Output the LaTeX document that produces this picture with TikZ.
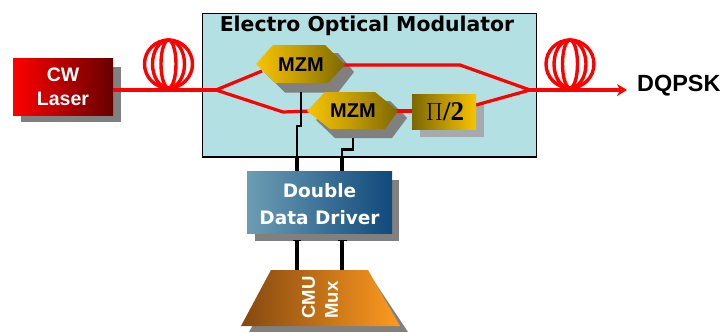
\documentclass[tikz,border=0pt]{standalone}
\usepackage{fontspec}
\setmainfont{Liberation Sans}
\newfontfamily\djfont{DejaVu Sans}
\newfontfamily\srfont{Liberation Serif}
\usetikzlibrary{arrows.meta}
\definecolor{shgray}{HTML}{808080}
\definecolor{lightsh}{HTML}{A3ABAE}
\definecolor{optbg}{HTML}{B2E0E3}
\definecolor{goldl}{HTML}{F8C400}
\definecolor{goldr}{HTML}{7C6800}
\definecolor{goldm}{HTML}{C09A00}
\definecolor{drvl}{HTML}{6C9DB4}
\definecolor{drvr}{HTML}{104A7C}
\definecolor{muxl}{HTML}{84480F}
\definecolor{muxr}{HTML}{FF9A20}
\definecolor{lasr}{HTML}{660000}
\tikzset{
  fibre/.style={red,line width=3.2pt,line join=round},
  wire/.style={black,line width=2.4pt},
  wirethick/.style={black,line width=3.8pt},
  loopring/.style={red,line width=3.4pt},
  boxnode/.style={minimum width=#1,inner sep=0pt,outer sep=0pt,align=center},
  lab/.style={font=\fontsize{20}{22}\selectfont\bfseries,text=black},
  whitelab/.style={font=\djfont\fontsize{18.5}{27}\selectfont\bfseries,text=white,align=center}
}
\begin{document}
\begin{tikzpicture}[x=1pt,y=-1pt]
\useasboundingbox (0,0) rectangle (726,332);
% laser
\fill[shgray] (21,67) rectangle (121,122);
\node[boxnode=100pt,minimum height=57pt,left color=red,right color=lasr,anchor=north west] (laser) at (13,58) {};
\node[font=\fontsize{19.5}{23.5}\selectfont\bfseries,text=white,align=center] (lasertxt) at (63,87) {CW\\Laser};
% modulator box
\node[minimum width=334pt,minimum height=144pt,inner sep=0pt,outer sep=0pt,fill=optbg,draw=black,line width=1pt,anchor=north west] (eom) at (202,13) {};
\draw[black,line width=2pt] (eom.south west) -- (eom.south east);
\node[font=\djfont\fontsize{20.4}{22}\selectfont\bfseries] (eomtitle) at (367,26) {Electro Optical Modulator};
% junctions
\coordinate (split) at (216,90);
\coordinate (join) at (530,90);
\coordinate (lowbend) at (283,112);
\coordinate (upbend) at (460,65);
\coordinate (m1left) at (262,71);
\coordinate (m1right) at (340,65);
\coordinate (m2left) at (312,111);
\coordinate (m2right) at (396,111);
\coordinate (laserout) at (113,90);
% shadows
\fill[shgray] (264,72) -- (283,53) -- (338,53) -- (354,72) -- (338,92.5) -- (285,92.5) -- cycle;
\fill[shgray] (316,120) -- (335,101) -- (390,101) -- (407,118) -- (392,138) -- (335,138) -- cycle;
\fill[lightsh] (420,103) rectangle (484,137);
% optical path under modules
\draw[fibre] (laserout) -- (split);
\draw[fibre] (split) -- (m1left);
\draw[fibre] (split) -- (lowbend) -- (m2left);
\draw[fibre] (m1right) -- (upbend) -- (join);
\draw[fibre] (m2right) -- (412,111);
\draw[fibre] (476,105) -- (join);
\draw[fibre,-{Stealth[length=10pt,width=12pt]}] (join) -- (627,90);
% mzm 1
\shade[left color=goldl,right color=goldr,middle color=goldm] (256,64) -- (273,45) -- (325,45) -- (345,65) -- (328,83) -- (275,83) -- cycle;
\node[lab] (mzmone) at (301,64.5) {MZM};
% mzm 2
\shade[left color=goldl,right color=goldr,middle color=goldm] (307,111) -- (325,92) -- (375,92) -- (398,111) -- (385,129) -- (330,129) -- cycle;
\node[lab] (mzmtwo) at (353,111) {MZM};
% pi/2
\node[boxnode=64pt,minimum height=35pt,left color=goldr,right color=goldl,anchor=north west] (pi) at (412,94) {};
\node[font=\srfont\fontsize{27}{27}\selectfont\bfseries,text=black] (pitxt) at (445,112) {$\Pi$/2};
% coils
\foreach \cx/\n in {168.5/a,570/b}{
  \coordinate (coil\n) at (\cx,64);
  \foreach \rx in {24,16,7.5}{
    \draw[loopring] (coil\n) ellipse ({\rx pt} and {24 pt});
  }
}
\node[font=\fontsize{23.4}{26}\selectfont\bfseries,anchor=west,inner sep=0pt] (dqpsk) at (637,85.5) {DQPSK};
% driver
\fill[shgray] (255,180) rectangle (399,241);
\node[boxnode=145pt,minimum height=62pt,left color=drvl,right color=drvr,anchor=north west] (drv) at (247,171) {};
\node[whitelab] (drvtxt) at (319.5,204) {Double\\Data Driver};
% mux
\fill[shgray] (279,278) -- (372,278) -- (404,326) -- (408,332) -- (249,332) -- cycle;
\shade[left color=muxl,right color=muxr] (271,270) -- (368,270) -- (400,326) -- (241,326) -- cycle;
\node[font=\fontsize{18.5}{23}\selectfont\bfseries,text=white,rotate=90,align=left] (muxtxt) at (320,297.5) {CMU\\Mux};
\coordinate (muxa) at (297,270);
\coordinate (muxb) at (342,270);
% wires
\coordinate (m1bot) at (301,92);
\coordinate (m2bot) at (353,138);
\coordinate (d1) at (297,171);
\coordinate (d2) at (342,171);
\coordinate (d1b) at (297,241);
\coordinate (d2b) at (342,241);
\draw[wire] (m1bot) -- (301,126) -- (297,126) -- (297,157);
\draw[wire] (m2bot) -- (353,149.5) -- (342,149.5) -- (342,157);
\draw[wirethick] (297,157) -- (d1);
\draw[wirethick] (342,157) -- (d2);
\draw[wirethick] (d1b) -- (muxa);
\draw[wirethick] (d2b) -- (muxb);
\draw[black,line width=1.4pt] (293,240.7) -- (301,240.7) (338,240.7) -- (347,240.7);
\end{tikzpicture}
\end{document}
